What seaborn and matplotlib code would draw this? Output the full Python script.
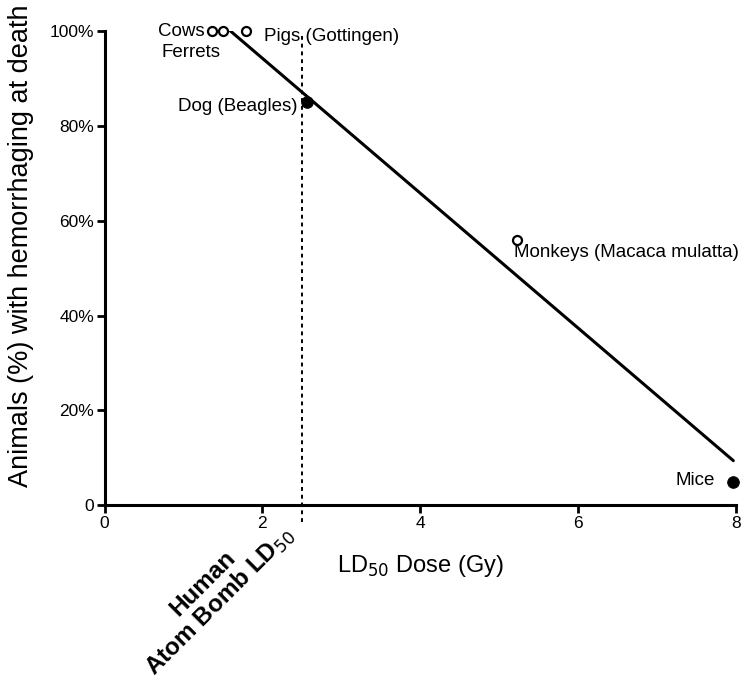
import matplotlib
matplotlib.use("Agg")
import matplotlib.pyplot as plt
import seaborn as sns
import pandas as pd

species = ["Cows", "Ferrets", "Pigs (Gottingen)", "Dog (Beagles)",
           "Monkeys (Macaca mulatta)", "Mice"]
ld50_dose = [1.36, 1.50, 1.79, 2.57, 5.23, 7.97]
hemorrhage_pct = [100, 100, 100, 85, 56, 5]
filled = [False, False, False, True, False, True]
human_ld50 = 2.5
x_ticks = [0, 2, 4, 6, 8]
y_ticks = [0, 20, 40, 60, 80, 100]
y_tick_labels = ["0", "20%", "40%", "60%", "80%", "100%"]

df = pd.DataFrame({"species": species, "dose": ld50_dose,
                   "pct": hemorrhage_pct, "filled": filled})

sns.set_theme(style="ticks")
plt.rcParams["font.family"] = ["Liberation Sans", "DejaVu Sans"]
plt.rcParams["text.color"] = "black"
plt.rcParams["axes.labelcolor"] = "black"
plt.rcParams["xtick.color"] = "black"
plt.rcParams["ytick.color"] = "black"
plt.rcParams["axes.edgecolor"] = "black"

fig = plt.figure(figsize=(7.53, 6.94), dpi=100)
ax = fig.add_axes([0.139, 0.272, 0.838, 0.683])

sns.regplot(data=df, x="dose", y="pct", scatter=False, ci=None, truncate=True,
            color="black", line_kws={"lw": 2.2}, ax=ax)

sns.scatterplot(data=df[~df["filled"]], x="dose", y="pct", s=42,
                facecolor="white", edgecolor="black", linewidth=1.6,
                ax=ax, clip_on=False, zorder=5)
sns.scatterplot(data=df[df["filled"]], x="dose", y="pct", s=70,
                color="black", edgecolor="black", ax=ax, clip_on=False, zorder=5)

ax.plot([human_ld50, human_ld50], [-3.5, 99], ls=(0, (2, 2)), color="black",
        lw=1.4, clip_on=False)

ax.set_xlim(0, 8)
ax.set_ylim(0, 100)
ax.set_xticks(x_ticks)
ax.set_xticklabels([str(t) for t in x_ticks], fontsize=12.5)
ax.set_yticks(y_ticks)
ax.set_yticklabels(y_tick_labels, fontsize=12.5)
ax.tick_params(width=2, length=6, direction="out", pad=1.5, colors="black")
for s in ["left", "bottom"]:
    ax.spines[s].set_linewidth(2.2)
    ax.spines[s].set_color("black")
sns.despine(ax=ax)

ax.set_xlabel("LD$_{50}$ Dose (Gy)", fontsize=17, labelpad=16, color="black")
ax.set_ylabel("Animals (%) with hemorrhaging at death", fontsize=19.5,
              color="black")
ax.yaxis.set_label_coords(-0.112, 0.548)

fs = 13.5
ax.text(1.27, 100, "Cows", ha="right", va="center", fontsize=fs)
ax.text(1.09, 95.6, "Ferrets", ha="center", va="center", fontsize=fs)
ax.text(2.02, 98.9, "Pigs (Gottingen)", ha="left", va="center", fontsize=fs)
ax.text(2.45, 84.2, "Dog (Beagles)", ha="right", va="center", fontsize=fs)
ax.text(5.19, 53.4, "Monkeys (Macaca mulatta)", ha="left", va="center", fontsize=fs)
ax.text(7.74, 5.3, "Mice", ha="right", va="center", fontsize=fs)

ax.text(1.356, -18.5, "Human\nAtom Bomb LD$_{50}$", rotation=45,
        rotation_mode="anchor", ha="center", va="center", ma="center",
        fontsize=17.5, fontweight="bold", linespacing=1.0, clip_on=False)

fig.savefig("out.png", dpi=100)
